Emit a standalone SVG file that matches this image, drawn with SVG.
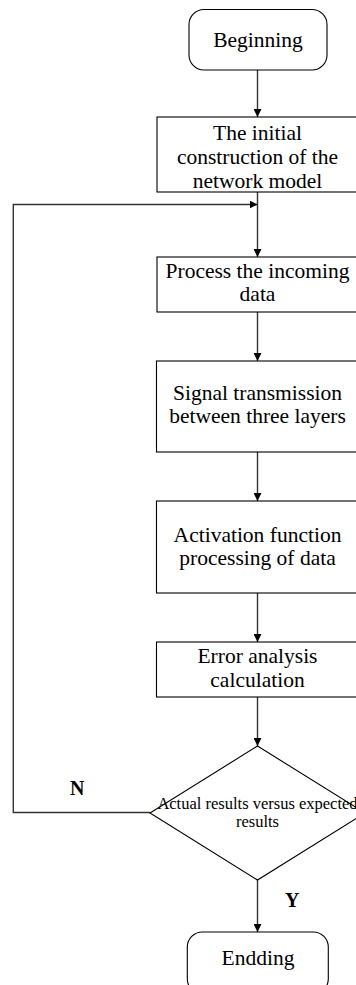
<svg xmlns="http://www.w3.org/2000/svg" width="356" height="985" viewBox="0 0 356 985">
<defs>
<style>
.box{fill:#fff;stroke:#000;stroke-width:1.1}
.t{font-family:"Liberation Serif","Times New Roman",serif;font-size:21.5px;fill:#000;text-anchor:middle}
.s{font-family:"Liberation Serif","Times New Roman",serif;font-size:16.5px;fill:#000;text-anchor:middle}
.b{font-family:"Liberation Serif","Times New Roman",serif;font-size:20px;font-weight:bold;fill:#000}
.c{fill:none;stroke:#333;stroke-width:1.4}
</style>
<marker id="ah" markerWidth="8" markerHeight="8" viewBox="0 0 8 8" refX="8" refY="4" orient="auto" markerUnits="userSpaceOnUse">
<path d="M0,0 L8,4 L0,8 Z" fill="#000"/>
</marker>
</defs>
<rect width="356" height="985" fill="#fff"/>
<g id="connectors">
<line class="c" x1="257.5" y1="70" x2="257.5" y2="117" marker-end="url(#ah)"/>
<line class="c" x1="257.5" y1="192" x2="257.5" y2="257" marker-end="url(#ah)"/>
<polyline class="c" points="150,812.5 13.3,812.5 13.3,204.5 257.5,204.5" marker-end="url(#ah)"/>
<line class="c" x1="257.5" y1="312" x2="257.5" y2="361" marker-end="url(#ah)"/>
<line class="c" x1="257.5" y1="452" x2="257.5" y2="501" marker-end="url(#ah)"/>
<line class="c" x1="257.5" y1="593" x2="257.5" y2="642" marker-end="url(#ah)"/>
<line class="c" x1="257.5" y1="697" x2="257.5" y2="746" marker-end="url(#ah)"/>
<line class="c" x1="257.5" y1="880" x2="257.5" y2="932" marker-end="url(#ah)"/>
<text class="b" x="70" y="795">N</text>
<text class="b" x="285" y="907">Y</text>
</g>
<g id="begin">
<rect class="box" x="189" y="9.5" width="138" height="60.5" rx="15"/>
<text class="t" x="258" y="47">Beginning</text>
</g>
<g id="init">
<rect class="box" x="157" y="117" width="202" height="75"/>
<text class="t" x="257.5" y="140">The initial</text>
<text class="t" x="257.5" y="164">construction of the</text>
<text class="t" x="257.5" y="187.5">network model</text>
</g>
<g id="process">
<rect class="box" x="157" y="257" width="202" height="55"/>
<text class="t" x="257.5" y="278">Process the incoming</text>
<text class="t" x="257.5" y="301">data</text>
</g>
<g id="signal">
<rect class="box" x="156.5" y="361" width="202" height="91"/>
<text class="t" x="257.5" y="400">Signal transmission</text>
<text class="t" x="257.5" y="423">between three layers</text>
</g>
<g id="activation">
<rect class="box" x="156.5" y="501" width="202" height="92"/>
<text class="t" x="257.5" y="542">Activation function</text>
<text class="t" x="257.5" y="565">processing of data</text>
</g>
<g id="error">
<rect class="box" x="156.5" y="642" width="202" height="55"/>
<text class="t" x="257.5" y="663">Error analysis</text>
<text class="t" x="257.5" y="687">calculation</text>
</g>
<g id="decision">
<polygon class="box" points="257.5,746 365,813 257.5,880 150,813"/>
<text class="s" x="257.5" y="809">Actual results versus expected</text>
<text class="s" x="257.5" y="827">results</text>
</g>
<g id="end">
<rect class="box" x="187.3" y="932" width="141" height="62" rx="15"/>
<text class="t" x="258" y="965">Endding</text>
</g>
</svg>
